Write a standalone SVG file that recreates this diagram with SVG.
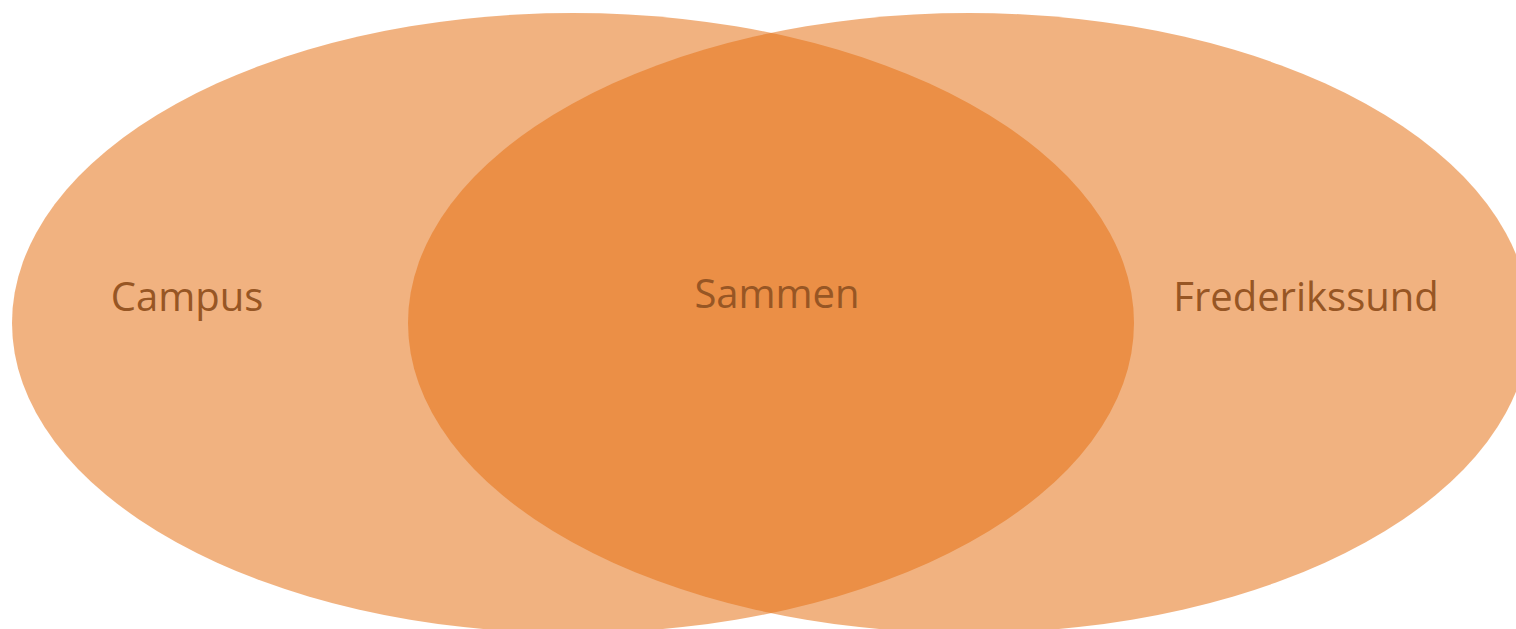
<svg xmlns="http://www.w3.org/2000/svg" width="1516" height="629" viewBox="0 0 1516 629">
  <style>
    .set { fill: #E57114; fill-opacity: 0.54; }
    .lbl { font-family: "Open Sans", "Noto Sans", sans-serif; font-size: 40px; fill: #975624; text-anchor: middle; }
  </style>
  <rect width="1516" height="629" fill="#FFFFFF"/>
  <g id="campus">
    <ellipse class="set" cx="573" cy="323" rx="561" ry="310"/>
    <text class="lbl" x="187" y="311">Campus</text>
  </g>
  <g id="frederikssund">
    <ellipse class="set" cx="969" cy="323" rx="561" ry="310"/>
    <text class="lbl" x="1306" y="311">Frederikssund</text>
  </g>
  <g id="sammen">
    <text class="lbl" x="777" y="308">Sammen</text>
  </g>
  <g id="connectors"/>
</svg>
